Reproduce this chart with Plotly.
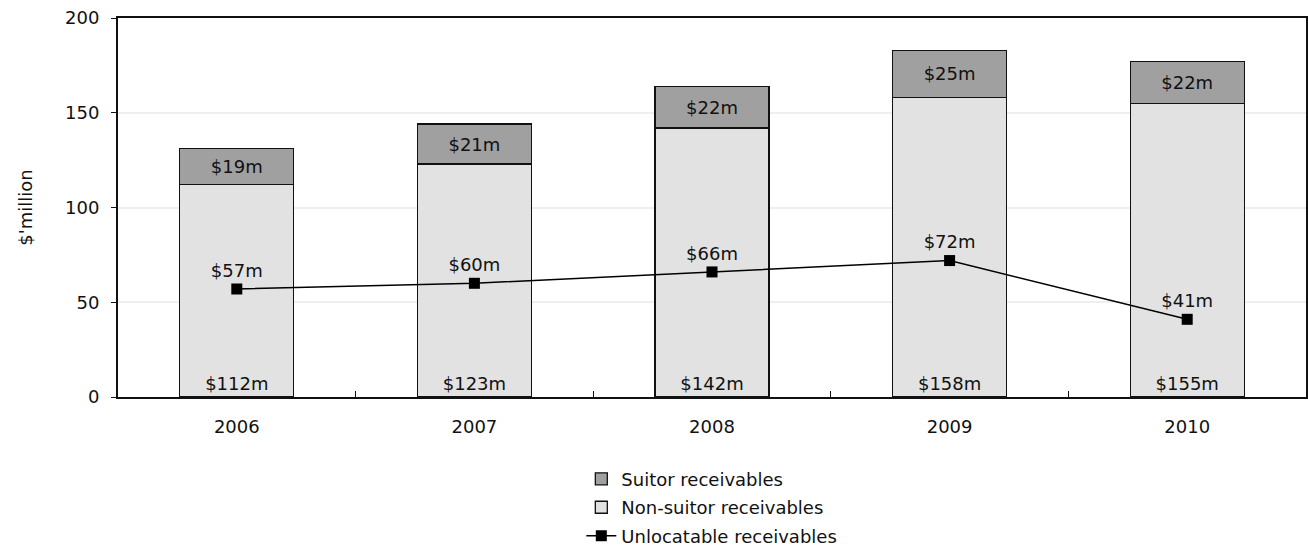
import plotly.graph_objects as go

years = ["2006", "2007", "2008", "2009", "2010"]
non_suitor = [112, 123, 142, 158, 155]
suitor = [19, 21, 22, 25, 22]
unlocatable = [57, 60, 66, 72, 41]

FONT = "DejaVu Sans"
SIZE = 18

fig = go.Figure()

fig.add_trace(go.Bar(
    x=years, y=non_suitor, name="Non-suitor receivables",
    marker=dict(color="#e2e2e2", line=dict(color="#111111", width=1.3)),
    text=[f"${v}m" for v in non_suitor],
    textposition="inside", insidetextanchor="start",
    textfont=dict(family=FONT, size=SIZE, color="#111111"),
    legendrank=2, legendgroup="non",
))
fig.add_trace(go.Bar(
    x=years, y=suitor, name="Suitor receivables",
    marker=dict(color="#a0a0a0", line=dict(color="#111111", width=1.3)),
    text=[f"${v}m" for v in suitor],
    textposition="inside", insidetextanchor="middle",
    textfont=dict(family=FONT, size=SIZE, color="#111111"),
    legendrank=1, legendgroup="suitor",
))
fig.add_trace(go.Scatter(
    x=years, y=unlocatable, name="Unlocatable receivables",
    mode="lines+markers+text",
    line=dict(color="#000000", width=1.5),
    marker=dict(symbol="square", size=11, color="#000000"),
    text=[f"${v}m" for v in unlocatable],
    textposition="top center",
    textfont=dict(family=FONT, size=SIZE, color="#111111"),
    legendrank=3, legendgroup="unloc",
))

fig.update_layout(
    width=1308, height=553,
    margin=dict(l=118, r=2, t=18, b=156, autoexpand=False),
    barmode="stack", bargap=0.52,
    plot_bgcolor="white", paper_bgcolor="white",
    font=dict(family=FONT, size=SIZE, color="#111111"),
    uniformtext=dict(mode=False),
    legend=dict(
        x=0.39, y=-0.168, xanchor="left", yanchor="top",
        traceorder="grouped", font=dict(family=FONT, size=SIZE, color="#111111"),
        tracegroupgap=2, itemwidth=30,
    ),
    xaxis=dict(
        showline=True, linecolor="#111111", linewidth=2, mirror=True,
        ticks="inside", tickson="boundaries", ticklen=6, tickcolor="#111111",
        showgrid=False, tickfont=dict(family=FONT, size=SIZE),
        ticklabelstandoff=12,
    ),
    yaxis=dict(
        range=[0, 200], dtick=50,
        showline=True, linecolor="#111111", linewidth=2, mirror=True,
        ticks="outside", ticklen=5, tickcolor="#111111",
        showgrid=True, gridcolor="#efefef", gridwidth=1.5,
        tickfont=dict(family=FONT, size=SIZE),
        ticklabelstandoff=8,
        title=dict(text="$'million", font=dict(family=FONT, size=SIZE), standoff=28),
        zeroline=False,
    ),
)

fig.write_html("out.html")
